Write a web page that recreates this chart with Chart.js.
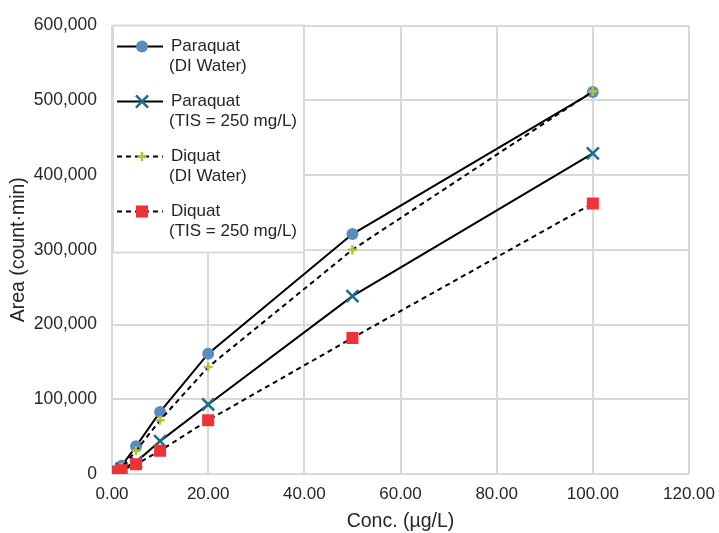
<!DOCTYPE html>
<html>
<head>
<meta charset="utf-8">
<script src="https://cdn.jsdelivr.net/npm/chart.js@4/dist/chart.umd.min.js"></script>
<style>
  html, body { margin: 0; padding: 0; background: #fff; }
  #wrap { width: 719px; height: 533px; }
</style>
</head>
<body>
<div id="wrap"><canvas id="myChart" width="719" height="533"></canvas></div>
<script>
// concentrations (ug/L)
var conc = [1, 2, 5, 10, 20, 50, 100];

// peak areas
var paraquatDI  = [5000, 11000, 37000, 83000, 161000, 321000, 511000];
var paraquatTIS = [3000, 7000, 16000, 44000, 93000, 238000, 429000];
var diquatDI    = [4000, 9000, 31000, 72000, 143000, 300000, 512000];
var diquatTIS   = [2000, 5000, 13000, 31000, 72000, 182000, 362000];

var seriesNames = [
    ['Paraquat', '(DI Water)'],
    ['Paraquat', '(TIS = 250 mg/L)'],
    ['Diquat', '(DI Water)'],
    ['Diquat', '(TIS = 250 mg/L)']
];

var xTicks = [0, 20, 40, 60, 80, 100, 120];
var yTicks = [0, 100000, 200000, 300000, 400000, 500000, 600000];

var FONT = "'Liberation Sans', Arial, Helvetica, sans-serif";
var TEXT = '#262626';
var GRID = '#d9d9d9';

function pts(ys) {
    return conc.map(function(x, i) { return { x: x, y: ys[i] }; });
}

var styles = [
    { color: '#000', dash: [],     pointStyle: 'circle',   pointColor: '#5b8cbf', radius: 6,   pointBorder: 0 },
    { color: '#000', dash: [],     pointStyle: 'crossRot', pointColor: '#1b6e8b', radius: 8.5, pointBorder: 2.5 },
    { color: '#000', dash: [5, 4], pointStyle: 'cross',    pointColor: '#b5c234', radius: 4.5, pointBorder: 2.5 },
    { color: '#000', dash: [5, 4], pointStyle: 'rect',     pointColor: '#ee3338', radius: 8.5, pointBorder: 0 }
];

var allSeries = [paraquatDI, paraquatTIS, diquatDI, diquatTIS];

var datasets = allSeries.map(function(s, i) {
    var st = styles[i];
    return {
        label: seriesNames[i].join(' '),
        data: pts(s),
        borderColor: st.color,
        borderWidth: 2,
        borderDash: st.dash,
        pointStyle: st.pointStyle,
        pointRadius: st.radius,
        pointHoverRadius: st.radius,
        pointBackgroundColor: st.pointColor,
        pointBorderColor: st.pointColor,
        pointBorderWidth: st.pointBorder,
        fill: false,
        tension: 0,
        order: 4 - i   // later series on top, like the original
    };
});

// legend box drawn inside the plot, top-left
var insideLegend = {
    id: 'insideLegend',
    afterDatasetsDraw: function(chart) {
        var ctx = chart.ctx;
        var a = chart.chartArea;
        var bx = a.left, by = a.top, bw = 192, bh = 227;
        ctx.save();
        ctx.fillStyle = '#fff';
        ctx.fillRect(bx, by, bw, bh);
        ctx.strokeStyle = GRID;
        ctx.lineWidth = 2;
        ctx.strokeRect(bx + 1, by, bw - 1, bh);

        ctx.font = '17px ' + FONT;
        ctx.textBaseline = 'middle';
        ctx.textAlign = 'left';
        for (var i = 0; i < seriesNames.length; i++) {
            var st = styles[i];
            var cy = by + 21 + i * 55;
            var x0 = bx + 5, x1 = bx + 51, cx = bx + 30;
            ctx.strokeStyle = st.color;
            ctx.lineWidth = 2;
            ctx.setLineDash(st.dash);
            ctx.beginPath();
            ctx.moveTo(x0, cy);
            ctx.lineTo(x1, cy);
            ctx.stroke();
            ctx.setLineDash([]);
            drawMarker(ctx, st, cx, cy);
            ctx.fillStyle = TEXT;
            ctx.fillText(seriesNames[i][0], bx + 59, cy);
            ctx.fillText(seriesNames[i][1], bx + 57, cy + 20);
        }
        ctx.restore();
    }
};

function drawMarker(ctx, st, x, y) {
    var r = st.radius;
    ctx.fillStyle = st.pointColor;
    ctx.strokeStyle = st.pointColor;
    ctx.lineWidth = st.pointBorder || 1;
    ctx.beginPath();
    if (st.pointStyle === 'circle') {
        ctx.arc(x, y, r, 0, Math.PI * 2);
        ctx.fill();
    } else if (st.pointStyle === 'rect') {
        var s = Math.SQRT1_2 * r;
        ctx.fillRect(x - s, y - s, 2 * s, 2 * s);
    } else if (st.pointStyle === 'crossRot') {
        var o = Math.SQRT1_2 * r;
        ctx.moveTo(x - o, y - o); ctx.lineTo(x + o, y + o);
        ctx.moveTo(x + o, y - o); ctx.lineTo(x - o, y + o);
        ctx.stroke();
    } else if (st.pointStyle === 'cross') {
        ctx.moveTo(x - r, y); ctx.lineTo(x + r, y);
        ctx.moveTo(x, y - r); ctx.lineTo(x, y + r);
        ctx.stroke();
    }
}

var ctx = document.getElementById('myChart').getContext('2d');
var chart = new Chart(ctx, {
    type: 'line',
    data: { datasets: datasets },
    plugins: [insideLegend],
    options: {
        responsive: false,
        animation: false,
        layout: { padding: { top: 22, right: 30, bottom: 0, left: 0 } },
        plugins: {
            legend: { display: false },
            tooltip: { enabled: false }
        },
        scales: {
            x: {
                type: 'linear',
                min: 0,
                max: 120,
                afterFit: function(s) {
                    s.height = 59;
                    s.paddingLeft = 0;
                    s.paddingRight = 0;
                },
                afterBuildTicks: function(s) { s.ticks = xTicks.map(function(v) { return { value: v }; }); },
                ticks: {
                    padding: 10,
                    color: TEXT,
                    font: { family: FONT, size: 17 },
                    callback: function(v) { return Number(v).toFixed(2); }
                },
                grid: { color: GRID, lineWidth: 2, drawTicks: false },
                border: { display: false },
                title: {
                    display: true,
                    text: 'Conc. (µg/L)',
                    color: TEXT,
                    font: { family: FONT, size: 19.5 },
                    padding: { top: 0, bottom: 0 }
                }
            },
            y: {
                type: 'linear',
                min: 0,
                max: 600000,
                afterFit: function(s) { s.width = 112; },
                afterBuildTicks: function(s) { s.ticks = yTicks.map(function(v) { return { value: v }; }); },
                ticks: {
                    padding: 15,
                    color: TEXT,
                    font: { family: FONT, size: 17.5 },
                    callback: function(v) { return Number(v).toLocaleString('en-US'); }
                },
                grid: { color: GRID, lineWidth: 2, drawTicks: false },
                border: { display: false },
                title: {
                    display: true,
                    text: 'Area (count·min)',
                    color: TEXT,
                    font: { family: FONT, size: 19.5 },
                    padding: { top: 7, bottom: 0 }
                }
            }
        }
    }
});
</script>
</body>
</html>
